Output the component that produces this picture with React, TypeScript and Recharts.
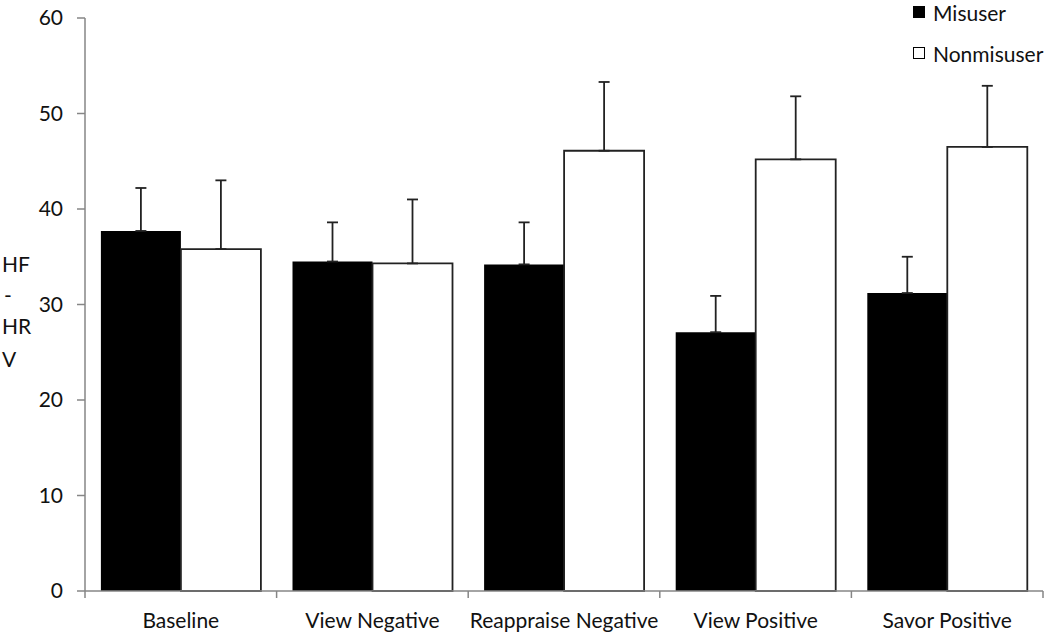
import React from 'react';
import { BarChart, Bar, XAxis, YAxis, ErrorBar } from 'recharts';

const categories = ['Baseline', 'View Negative', 'Reappraise Negative', 'View Positive', 'Savor Positive'];
const misuser = [37.7, 34.5, 34.2, 27.1, 31.2];
const misuserErr = [4.5, 4.1, 4.4, 3.8, 3.8];
const nonmisuser = [35.8, 34.3, 46.1, 45.2, 46.5];
const nonmisuserErr = [7.2, 6.7, 7.2, 6.6, 6.4];
const yTicks = [0, 10, 20, 30, 40, 50, 60];
const seriesNames = ['Misuser', 'Nonmisuser'];

const data = categories.map((name, i) => ({
  name,
  Misuser: misuser[i],
  Nonmisuser: nonmisuser[i],
  misuserErr: [0, misuserErr[i]],
  nonmisuserErr: [0, nonmisuserErr[i]],
}));

const W = 1050;
const H = 633;
const FONT = 'Lato, "Noto Sans", sans-serif';
const AXIS = '#868686';
const PLOT_LEFT = 85;
const PLOT_RIGHT = 1043;
const BAND = (PLOT_RIGHT - PLOT_LEFT) / categories.length;

// x tick: label at band centre, tick marks at band edges
const CategoryTick = (props: any) => {
  const { x, y, payload, index } = props;
  return (
    <g>
      {index === 0 && <line x1={x - BAND / 2} y1={y} x2={x - BAND / 2} y2={y + 7} stroke={AXIS} strokeWidth={1.5} />}
      <line x1={x + BAND / 2} y1={y} x2={x + BAND / 2} y2={y + 7} stroke={AXIS} strokeWidth={1.5} />
      <text x={x} y={y + 37} textAnchor="middle" fontSize={21} fontFamily={FONT} fill="#111">
        {payload.value}
      </text>
    </g>
  );
};

const YLabel = () => (
  <text x={2} fontSize={21} fontFamily={FONT} fill="#111">
    <tspan x={2} y={272}>HF</tspan>
    <tspan x={4} y={303}>-</tspan>
    <tspan x={2} y={334}>HR</tspan>
    <tspan x={2} y={367}>V</tspan>
  </text>
);

const LegendBox = () => (
  <div style={{ position: 'absolute', left: 913, top: 0, fontFamily: FONT, fontSize: 21, color: '#111' }}>
    {seriesNames.map((s, i) => (
      <div key={s} style={{ display: 'flex', alignItems: 'center', height: 24, marginTop: i === 0 ? 0 : 17 }}>
        <span
          style={{
            width: i === 0 ? 12 : 10,
            height: i === 0 ? 12 : 10,
            background: i === 0 ? '#000' : '#fff',
            border: i === 0 ? 'none' : '1px solid #000',
            display: 'inline-block',
            marginRight: 8,
          }}
        />
        {s}
      </div>
    ))}
  </div>
);

export default function App() {
  return (
    <div style={{ position: 'absolute', left: 0, top: 0, width: W, height: H, background: '#fff' }}>
      <BarChart
        width={W}
        height={H}
        data={data}
        margin={{ top: 18, right: W - PLOT_RIGHT, left: 25, bottom: 0 }}
        barCategoryGap="8.3%"
        barGap={0}
      >
        <XAxis
          dataKey="name"
          tick={<CategoryTick />}
          tickLine={false}
          tickSize={0}
          tickMargin={0}
          axisLine={{ stroke: AXIS, strokeWidth: 1.5 }}
          interval={0}
          height={42}
        />
        <YAxis
          width={60}
          domain={[0, 60]}
          ticks={yTicks}
          tickSize={8}
          tickMargin={14}
          tick={{ fontSize: 21, fontFamily: FONT, fill: '#111' }}
          tickLine={{ stroke: AXIS, strokeWidth: 1.5 }}
          axisLine={{ stroke: AXIS, strokeWidth: 1.5 }}
          label={<YLabel />}
        />
        <Bar dataKey="Misuser" fill="#000" isAnimationActive={false}>
          <ErrorBar dataKey="misuserErr" width={5.5} stroke="#222" strokeWidth={1.8} direction="y" />
        </Bar>
        <Bar dataKey="Nonmisuser" fill="#fff" stroke="#222" strokeWidth={1.8} isAnimationActive={false}>
          <ErrorBar dataKey="nonmisuserErr" width={5.5} stroke="#222" strokeWidth={1.8} direction="y" />
        </Bar>
      </BarChart>
      <LegendBox />
    </div>
  );
}
